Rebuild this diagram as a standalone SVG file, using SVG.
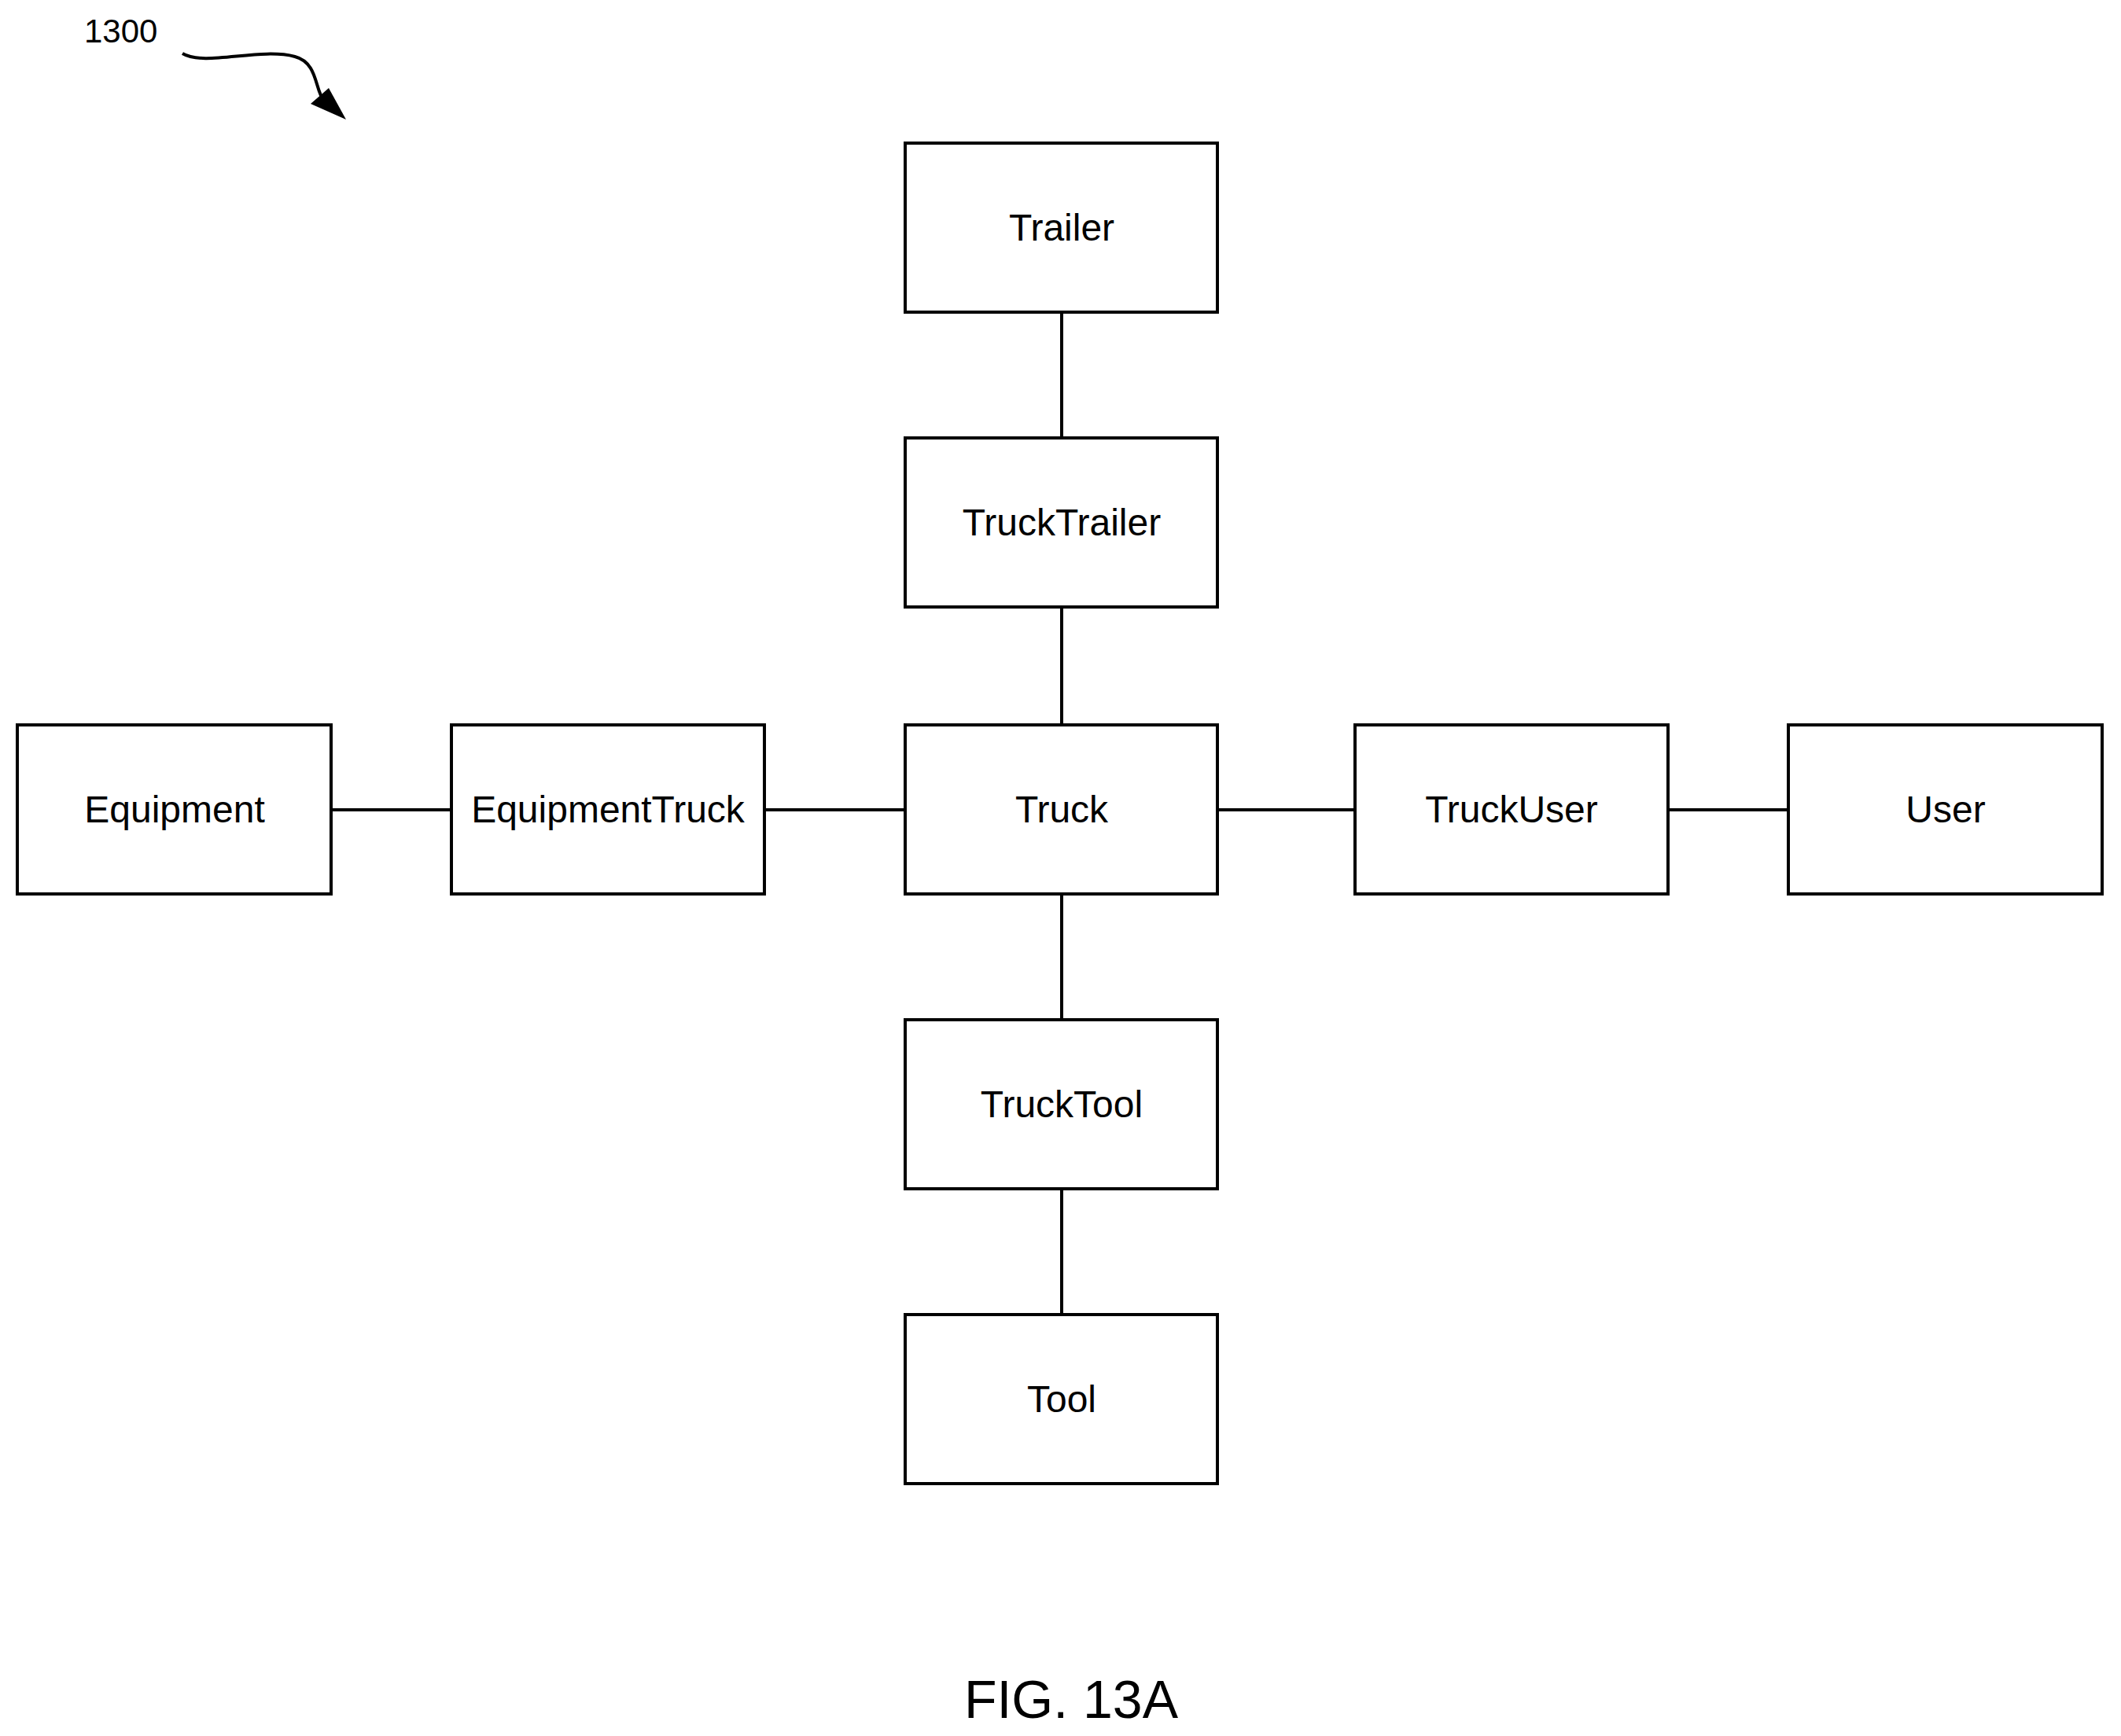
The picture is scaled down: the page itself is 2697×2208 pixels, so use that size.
<svg xmlns="http://www.w3.org/2000/svg" width="2697" height="2208" viewBox="0 0 2697 2208">
<style>
.b{fill:#fff;stroke:#000;stroke-width:4}
.t{font-family:"Liberation Sans",Arial,sans-serif;font-size:48px;text-anchor:middle;dominant-baseline:central}
.c line{stroke:#000;stroke-width:4}
</style>
<defs><marker id="a" viewBox="0 0 10 10" refX="9" refY="5" markerWidth="10" markerHeight="10" markerUnits="userSpaceOnUse" orient="auto"><path d="M0,0L10,5L0,10z"/></marker></defs>
<rect width="2697" height="2208" fill="#fff"/>
<g class="c">
<line x1="1350" y1="397" x2="1350" y2="557"/>
<line x1="1350" y1="772" x2="1350" y2="922"/>
<line x1="1350" y1="1137" x2="1350" y2="1297"/>
<line x1="1350" y1="1512" x2="1350" y2="1672"/>
<line x1="421" y1="1030" x2="574" y2="1030"/>
<line x1="972" y1="1030" x2="1151" y2="1030"/>
<line x1="1548" y1="1030" x2="1723" y2="1030"/>
<line x1="2121" y1="1030" x2="2274" y2="1030"/>
</g>
<g id="trailer"><rect class="b" x="1151" y="182" width="397" height="215"/><text class="t" x="1350" y="289">Trailer</text></g>
<g id="trucktrailer"><rect class="b" x="1151" y="557" width="397" height="215"/><text class="t" x="1350" y="664">TruckTrailer</text></g>
<g id="truck"><rect class="b" x="1151" y="922" width="397" height="215"/><text class="t" x="1350" y="1029">Truck</text></g>
<g id="trucktool"><rect class="b" x="1151" y="1297" width="397" height="215"/><text class="t" x="1350" y="1404">TruckTool</text></g>
<g id="tool"><rect class="b" x="1151" y="1672" width="397" height="215"/><text class="t" x="1350" y="1779">Tool</text></g>
<g id="equipment"><rect class="b" x="22" y="922" width="399" height="215"/><text class="t" x="222" y="1029">Equipment</text></g>
<g id="equipmenttruck"><rect class="b" x="574" y="922" width="398" height="215"/><text class="t" x="773" y="1029">EquipmentTruck</text></g>
<g id="truckuser"><rect class="b" x="1723" y="922" width="398" height="215"/><text class="t" x="1922" y="1029">TruckUser</text></g>
<g id="user"><rect class="b" x="2274" y="922" width="399" height="215"/><text class="t" x="2474" y="1029">User</text></g>
<g id="ref">
<text x="107" y="54" font-family="Liberation Sans,Arial,sans-serif" font-size="42">1300</text>
<path d="M232,68 C260,85 330,60 375,72 C405,80 400,115 412,128" fill="none" stroke="#000" stroke-width="4"/>
<path d="M395,132 L440,152 L418,112 z"/>
</g>
<text x="1362" y="2185" font-family="Liberation Sans,Arial,sans-serif" font-size="68" text-anchor="middle">FIG. 13A</text>
</svg>
